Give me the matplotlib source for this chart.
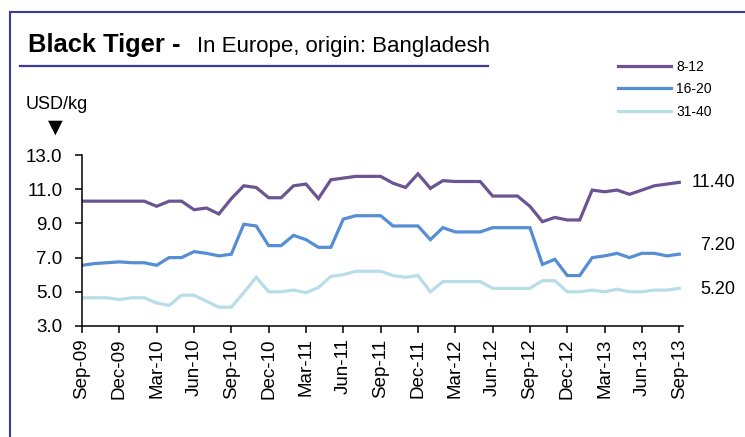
import numpy as np
import matplotlib
matplotlib.use("Agg")
import matplotlib.pyplot as plt
from matplotlib.patches import Rectangle
from matplotlib.lines import Line2D

plt.rcParams['font.family'] = ['Liberation Sans', 'DejaVu Sans']

# monthly prices, Sep-09 .. Sep-13
size_8_12 = [10.3, 10.3, 10.3, 10.3, 10.3, 10.3, 10.0, 10.3, 10.3, 9.8,
             9.9, 9.55, 10.45, 11.2, 11.1, 10.5, 10.5, 11.2, 11.3, 10.45,
             11.55, 11.65, 11.75, 11.75, 11.75, 11.35, 11.1, 11.9, 11.05, 11.5,
             11.45, 11.45, 11.45, 10.6, 10.6, 10.6, 10.0, 9.1, 9.35, 9.2,
             9.2, 10.95, 10.85, 10.95, 10.7, 10.95, 11.2, 11.3, 11.4]
size_16_20 = [6.55, 6.65, 6.7, 6.75, 6.7, 6.7, 6.55, 7.0, 7.0, 7.35,
              7.25, 7.1, 7.2, 8.95, 8.85, 7.7, 7.7, 8.3, 8.05, 7.6,
              7.6, 9.25, 9.45, 9.45, 9.45, 8.85, 8.85, 8.85, 8.05, 8.75,
              8.5, 8.5, 8.5, 8.75, 8.75, 8.75, 8.75, 6.6, 6.9, 5.95,
              5.95, 7.0, 7.1, 7.25, 7.0, 7.25, 7.25, 7.1, 7.2]
size_31_40 = [4.65, 4.65, 4.65, 4.55, 4.65, 4.65, 4.35, 4.2, 4.8, 4.8,
              4.45, 4.1, 4.1, 4.95, 5.85, 5.0, 5.0, 5.1, 4.95, 5.25,
              5.9, 6.0, 6.2, 6.2, 6.2, 5.95, 5.85, 5.95, 5.0, 5.6,
              5.6, 5.6, 5.6, 5.2, 5.2, 5.2, 5.2, 5.65, 5.65, 5.0,
              5.0, 5.1, 5.0, 5.15, 5.0, 5.0, 5.1, 5.1, 5.2]

series_names = ['8-12', '16-20', '31-40']
series_colors = ['#6B5491', '#558ED5', '#B7DEE8']
tick_labels = ['Sep-09', 'Dec-09', 'Mar-10', 'Jun-10', 'Sep-10', 'Dec-10',
               'Mar-11', 'Jun-11', 'Sep-11', 'Dec-11', 'Mar-12', 'Jun-12',
               'Sep-12', 'Dec-12', 'Mar-13', 'Jun-13', 'Sep-13']
y_ticks = [3.0, 5.0, 7.0, 9.0, 11.0, 13.0]
label_offsets = [0, 6.5, -1]   # points, vertical nudge of end labels

W, H = 745, 437
fig = plt.figure(figsize=(W / 100, H / 100), dpi=100)
ax = fig.add_axes([82 / W, 1 - 326 / H, 601 / W, 171 / H])

x = np.arange(len(size_8_12))
all_series = [size_8_12, size_16_20, size_31_40]
for vals, name, col, off in zip(all_series, series_names, series_colors, label_offsets):
    ax.plot(x, vals, color=col, lw=2.3, label=name, solid_joinstyle='miter')
    ax.annotate('%.2f' % vals[-1], xy=(x[-1], vals[-1]), xytext=(40, off),
                textcoords='offset points', ha='right', va='center',
                fontsize=13, annotation_clip=False)

ax.set_xlim(0, 48.3)
ax.set_ylim(3, 13)
ax.set_xticks(x[::3])
ax.set_xticklabels(tick_labels, rotation=90, fontsize=13.5)
ax.set_yticks(y_ticks)
ax.set_yticklabels(['%.1f' % v for v in y_ticks], fontsize=13.5)
ax.tick_params(axis='x', length=5, width=1.1, pad=4)
ax.tick_params(axis='y', length=5, width=1.1, pad=9)
for s in ['top', 'right']:
    ax.spines[s].set_visible(False)
for s in ['left', 'bottom']:
    ax.spines[s].set_linewidth(1.1)

ax.legend(loc='upper left', bbox_to_anchor=(618 / W, 1 - 60 / H),
          bbox_transform=fig.transFigure, frameon=False, fontsize=10,
          handlelength=3.8, handletextpad=0.4, labelspacing=0.6,
          borderpad=0, borderaxespad=0)

# frame and title
fig.add_artist(Rectangle((10 / W, -0.5), 2, 1.5 - 12 / H, transform=fig.transFigure,
                         fill=False, edgecolor='#3B3B9E', lw=1.5))
fig.add_artist(Line2D([20 / W, 488 / W], [1 - 66 / H, 1 - 66 / H],
                      transform=fig.transFigure, color='#3B3B9E', lw=1.6))
fig.text(28 / W, 1 - 52 / H, 'Black Tiger -', fontsize=18.4, fontweight='bold',
         ha='left', va='baseline')
fig.text(197 / W, 1 - 52 / H, 'In Europe, origin: Bangladesh', fontsize=16,
         ha='left', va='baseline')
fig.text(26 / W, 1 - 109 / H, 'USD/kg', fontsize=13, ha='left', va='baseline')
fig.text(55 / W, 1 - 128 / H, '\u25BC', fontsize=18, ha='center', va='center')

fig.savefig('out.png', dpi=100)
